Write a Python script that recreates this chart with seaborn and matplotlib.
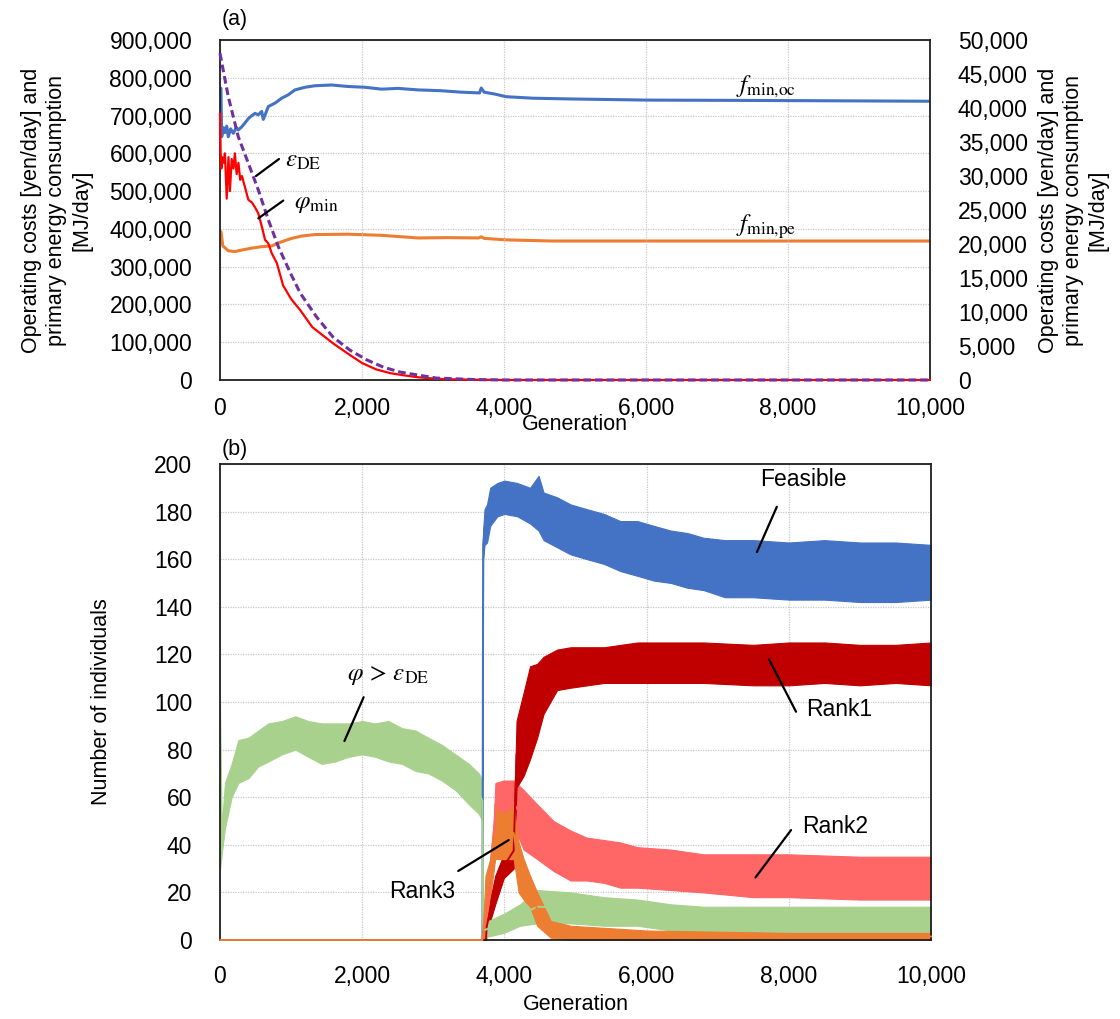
import matplotlib
matplotlib.use("Agg")
import matplotlib.pyplot as plt
import numpy as np
import pandas as pd
import seaborn as sns
from matplotlib.ticker import FuncFormatter, MultipleLocator

# ------------------------------------------------------------
# (a) best objective values and constraint levels per generation
# ------------------------------------------------------------
oc_gen = [0, 14, 24, 50, 70, 95, 117, 150, 188, 230, 258, 305, 350, 399, 450, 493,
          540, 587, 610, 681, 775, 868, 962, 1056, 1197, 1338, 1572, 1807, 2041,
          2276, 2511, 2790, 3100, 3400, 3655, 3680, 3720, 3870, 4030, 4410, 4950,
          6030, 7650, 10000]
oc_val = [772, 772, 644, 668, 655, 672, 644, 665, 653, 668, 662, 670, 680, 692, 700,
          706, 702, 711, 690, 724, 733, 746, 755, 768, 775, 779, 781, 777, 775, 770,
          772, 768, 766, 762, 760, 773, 762, 757, 750, 746, 744, 741, 740, 738]  # x1000 yen/day

pe_gen = [0, 14, 40, 117, 211, 305, 446, 587, 728, 868, 1009, 1150, 1338, 1807, 2276,
          2790, 3200, 3640, 3680, 3720, 4030, 4680, 10000]
pe_val = [21830, 21830, 19720, 19000, 18890, 19110, 19390, 19610, 19720, 20330, 20830,
          21170, 21390, 21440, 21280, 20890, 20940, 20890, 21060, 20830, 20610, 20440,
          20440]  # MJ/day

phi_gen = [0, 10, 20, 30, 50, 70, 95, 120, 140, 165, 190, 210, 235, 260, 285, 310, 350,
           400, 450, 500, 540, 590, 635, 680, 730, 800, 890, 1000, 1130, 1300, 1450,
           1600, 1800, 2000, 2200, 2400, 2600, 2800, 3000, 3200, 3500, 4000, 10000]
phi_val = [706, 600, 560, 590, 575, 600, 480, 590, 500, 585, 560, 600, 545, 575, 530,
           540, 512, 477, 470, 455, 441, 406, 371, 362, 335, 310, 250, 215, 185, 140,
           118, 96, 70, 45, 28, 18, 12, 7, 4, 2, 1, 0, 0]  # x1000

eps_gen = [0, 117, 258, 399, 540, 681, 822, 1000, 1130, 1360, 1590, 1830, 2070, 2300,
           2535, 2790, 3050, 3330, 3600, 4000, 10000]
eps_val = [865, 750, 644, 574, 503, 424, 353, 280, 230, 167, 114, 79, 53, 34, 21, 13,
           5, 3, 1, 0, 0]  # x1000

# ------------------------------------------------------------
# (b) number of individuals: lower / upper edge of the noisy band
# ------------------------------------------------------------
feas_gen = [0, 3690, 3700, 3720, 3755, 3800, 3900, 4000, 4180, 4360, 4480, 4550, 4740,
            4930, 5160, 5400, 5630, 5870, 6100, 6340, 6570, 6800, 7100, 7500, 8000,
            8500, 9000, 9500, 10000]
feas_lo = [0, 0, 160, 166, 167, 174, 178, 179, 178, 175, 172, 168, 165, 162, 160, 158,
           155, 153, 151, 150, 148, 147, 144, 144, 143, 143, 142, 142, 143]
feas_hi = [0, 0, 172, 181, 183, 190, 192, 193, 192, 190, 195, 188, 186, 183, 181, 179,
           176, 176, 174, 172, 171, 169, 168, 168, 167, 168, 167, 167, 166]

rank1_gen = [0, 3740, 3750, 3800, 3870, 3990, 4130, 4170, 4270, 4360, 4460, 4550, 4740,
             4930, 5400, 5870, 6340, 6800, 7500, 8000, 8500, 9000, 9500, 10000]
rank1_lo = [0, 0, 3, 8, 15, 26, 30, 64, 69, 76, 85, 95, 105, 106, 108, 108, 108, 108,
            107, 107, 108, 107, 108, 107]
rank1_hi = [0, 0, 8, 17, 27, 36, 45, 92, 104, 115, 116, 119, 122, 123, 123, 125, 125,
            125, 124, 125, 125, 124, 124, 125]

rank2_gen = [0, 3700, 3710, 3755, 3850, 3873, 3990, 4130, 4270, 4460, 4690, 4930, 5160,
             5400, 5630, 5870, 6340, 6800, 7500, 8000, 9000, 10000]
rank2_lo = [0, 0, 0, 8, 30, 48, 50, 48, 38, 34, 29, 25, 25, 24, 22, 22, 21, 20, 18, 18,
            17, 17]
rank2_hi = [0, 0, 3, 20, 50, 66, 67, 67, 63, 57, 50, 46, 43, 42, 41, 39, 38, 36, 36, 36,
            35, 35]

rank3_gen = [0, 3690, 3700, 3733, 3800, 3870, 3990, 4130, 4200, 4270, 4360, 4460, 4650,
             4930, 6000, 8000, 10000]
rank3_lo = [0, 0, 0, 6, 20, 34, 34, 34, 20, 17, 14, 6, 1, 0, 0, 0, 0]
rank3_hi = [0, 0, 5, 27, 34, 55, 53, 56, 41, 34, 27, 20, 8, 6, 4, 3, 3]

viol_gen = [0, 24, 70, 164, 258, 400, 540, 680, 870, 1060, 1240, 1430, 1620, 1810, 2000,
            2180, 2370, 2560, 2750, 2930, 3120, 3310, 3500, 3640, 3690, 3700, 3990,
            4220, 4460, 4930, 5400, 5870, 6340, 6800, 8000, 10000]
viol_lo = [30, 36, 47, 60, 66, 68, 73, 75, 78, 80, 77, 74, 75, 77, 78, 77, 75, 74, 71,
           70, 67, 63, 57, 53, 50, 1, 3, 6, 7, 7, 6, 6, 4, 3, 3, 2]
viol_hi = [99, 47, 66, 74, 84, 85, 88, 91, 92, 94, 92, 91, 91, 91, 92, 91, 92, 89, 88,
           85, 82, 78, 74, 70, 67, 7, 11, 15, 21, 20, 18, 17, 15, 14, 14, 14]

BLUE = "#4472C4"
ORANGE = "#ED7D31"
RED = "#FF0000"
PURPLE = "#7030A0"
GREEN = "#A9D18E"
DARKRED = "#C00000"
LIGHTRED = "#FF6666"

sns.set_theme(style="white")
plt.rcParams["font.family"] = ["Liberation Sans", "DejaVu Sans"]
plt.rcParams["mathtext.fontset"] = "stix"
for key in ("text.color", "axes.labelcolor", "xtick.color", "ytick.color"):
    plt.rcParams[key] = "black"

TICK_FS = 16.5
LABEL_FS = 15.5
NOTE_FS = 16.5
MATH_FS = 18

comma = FuncFormatter(lambda v, _: f"{int(v):,}")

fig = plt.figure(figsize=(11.2, 10.19), dpi=100)
ax_a = fig.add_axes([0.1964, 0.6271, 0.634, 0.3336])
ax_r = ax_a.twinx()
ax_b = fig.add_axes([0.1964, 0.0775, 0.635, 0.4672])

# right axis sits underneath so the left-axis lines are drawn on top
ax_r.set_zorder(0)
ax_a.set_zorder(1)
ax_a.patch.set_visible(False)


def band(ax, gen, lo, hi, color, z=2):
    df = pd.DataFrame({"gen": gen + gen, "value": lo + hi})
    sns.lineplot(data=df, x="gen", y="value", ax=ax, color=color, lw=1.4,
                 estimator="mean", errorbar=("pi", 100),
                 err_kws={"alpha": 1, "linewidth": 0.8}, clip_on=False, zorder=z)


# ---------------- panel (a) ----------------
sns.lineplot(x=pe_gen, y=pe_val, ax=ax_r, color=ORANGE, lw=2.2)
sns.lineplot(x=oc_gen, y=np.array(oc_val) * 1000, ax=ax_a, color=BLUE, lw=2.2)
sns.lineplot(x=phi_gen, y=np.array(phi_val) * 1000, ax=ax_a, color=RED, lw=1.6,
             clip_on=False, zorder=3)
sns.lineplot(x=eps_gen, y=np.array(eps_val) * 1000, ax=ax_a, color=PURPLE, lw=2.2,
             linestyle=(0, (2.5, 1.3)), clip_on=False, zorder=3)

ax_a.set_xlim(0, 10000)
ax_a.set_ylim(0, 900000)
ax_r.set_ylim(0, 50000)
ax_a.yaxis.set_major_locator(MultipleLocator(100000))
ax_r.yaxis.set_major_locator(MultipleLocator(5000))
ax_a.xaxis.set_major_locator(MultipleLocator(2000))
for ax in (ax_a, ax_r):
    ax.yaxis.set_major_formatter(comma)
ax_a.xaxis.set_major_formatter(comma)

ax_a.grid(True, color="#C8C8C8", linestyle=(0, (1, 1)), lw=0.9)
ax_r.grid(False)
ax_a.tick_params(axis="x", direction="in", length=6, width=1.2, color="#404040",
                 labelsize=TICK_FS, pad=12)
ax_a.tick_params(axis="y", length=0, labelsize=TICK_FS, pad=20)
ax_r.tick_params(axis="y", length=0, labelsize=TICK_FS, pad=20)

ylab = "Operating costs [yen/day] and\nprimary energy consumption\n[MJ/day]"
ax_a.set_ylabel(ylab, fontsize=LABEL_FS, linespacing=1.25)
ax_a.yaxis.set_label_coords(-0.180, 0.5)
ax_r.set_ylabel(ylab, fontsize=LABEL_FS, linespacing=1.25)
ax_r.yaxis.set_label_coords(1.152, 0.5)
ax_a.set_xlabel("Generation", fontsize=LABEL_FS)
ax_a.xaxis.set_label_coords(0.5, -0.1)

for sp in ax_a.spines.values():
    sp.set_color("#202020")
    sp.set_linewidth(1.3)
for sp in ax_r.spines.values():
    sp.set_visible(False)

line_kw = dict(arrowprops=dict(arrowstyle="-", color="black", lw=1.6,
                               shrinkA=0, shrinkB=0))
ax_a.annotate("", xy=(507, 540000), xytext=(831, 585000), **line_kw)
ax_a.text(915, 582000, r"$\varepsilon_{\mathrm{DE}}$", fontsize=MATH_FS, va="center")
ax_a.annotate("", xy=(540, 428000), xytext=(892, 475000), **line_kw)
ax_a.text(1040, 468000, r"$\varphi_{\mathrm{min}}$", fontsize=MATH_FS, va="center")
ax_a.text(7270, 775000, r"$f_{\mathrm{min{,}oc}}$", fontsize=MATH_FS, va="center")
ax_a.text(7270, 404000, r"$f_{\mathrm{min{,}pe}}$", fontsize=MATH_FS, va="center")
fig.text(222 / 1120, 1 - 20 / 1019, "(a)", fontsize=LABEL_FS, va="center")

# ---------------- panel (b) ----------------
band(ax_b, feas_gen, feas_lo, feas_hi, BLUE)
band(ax_b, rank2_gen, rank2_lo, rank2_hi, LIGHTRED)
band(ax_b, rank1_gen, rank1_lo, rank1_hi, DARKRED)
band(ax_b, viol_gen, viol_lo, viol_hi, GREEN)
band(ax_b, rank3_gen, rank3_lo, rank3_hi, ORANGE, z=3)

ax_b.set_xlim(0, 10000)
ax_b.set_ylim(0, 200)
ax_b.yaxis.set_major_locator(MultipleLocator(20))
ax_b.xaxis.set_major_locator(MultipleLocator(2000))
ax_b.xaxis.set_major_formatter(comma)
ax_b.grid(True, color="#C8C8C8", linestyle=(0, (1, 1)), lw=0.9)
ax_b.tick_params(axis="x", length=0, labelsize=TICK_FS, pad=18)
ax_b.tick_params(axis="y", length=0, labelsize=TICK_FS, pad=20)
ax_b.set_xlabel("Generation", fontsize=LABEL_FS)
ax_b.xaxis.set_label_coords(0.5, -0.113)
ax_b.set_ylabel("Number of individuals", fontsize=LABEL_FS)
ax_b.yaxis.set_label_coords(-0.152, 0.5)
for sp in ax_b.spines.values():
    sp.set_color("#202020")
    sp.set_linewidth(1.3)

ax_b.annotate("", xy=(7550, 163), xytext=(7830, 182), **line_kw)
ax_b.text(8210, 193.6, "Feasible", fontsize=NOTE_FS, ha="center", va="center")
ax_b.annotate("", xy=(7720, 117.9), xytext=(8100, 95.9), **line_kw)
ax_b.text(8700, 97, "Rank1", fontsize=NOTE_FS, ha="center", va="center")
ax_b.annotate("", xy=(7530, 26.3), xytext=(8030, 46.2), **line_kw)
ax_b.text(8650, 47.6, "Rank2", fontsize=NOTE_FS, ha="center", va="center")
ax_b.annotate("", xy=(4060, 42), xytext=(3350, 29), **line_kw)
ax_b.text(2850, 20.2, "Rank3", fontsize=NOTE_FS, ha="center", va="center")
ax_b.annotate("", xy=(1750, 83.6), xytext=(2020, 102), **line_kw)
ax_b.text(2360, 111.3, r"$\varphi\,>\,\varepsilon_{\mathrm{DE}}$", fontsize=MATH_FS,
          ha="center", va="center")
fig.text(222 / 1120, 1 - 449 / 1019, "(b)", fontsize=LABEL_FS, va="center")

fig.savefig("out.png", dpi=100)
